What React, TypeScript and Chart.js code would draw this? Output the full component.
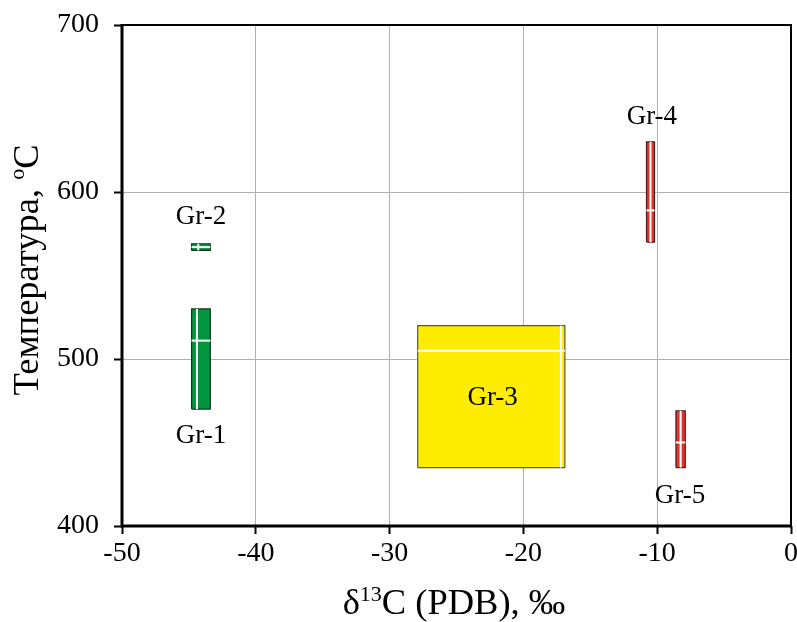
import React, { useEffect, useRef } from "react";
import { Chart, registerables } from "chart.js";

Chart.register(...registerables);

const groups = ["Gr-1", "Gr-2", "Gr-3", "Gr-4", "Gr-5"];
const d13cMin = [-44.8, -44.8, -27.9, -10.8, -8.6];
const d13cMax = [-43.4, -43.4, -16.9, -10.2, -7.9];
const tempMin = [470, 565, 435, 570, 435];
const tempMax = [530, 569, 520, 630, 469];
const d13cMark = [-44.4, -44.3, -17.2, -10.5, -8.25];
const tempMark = [511, 567, 505, 589, 450];
const labelX = [-44.1, -44.1, -22.3, -10.4, -8.3];
const labelT = [454, 585, 477, 645, 418];
const fillColors = ["#00963f", "#00963f", "#ffed00", "#e5322a", "#e5322a"];
const edgeColors = ["#17331f", "#17331f", "#555555", "#4a2020", "#4a2020"];

const xTicks = [-50, -40, -30, -20, -10, 0];
const yTicks = [400, 500, 600, 700];

const SERIF = "'Liberation Serif', 'Times New Roman', serif";

export default function App() {
  const ref = useRef<HTMLCanvasElement | null>(null);

  useEffect(() => {
    if (!ref.current) return;
    const datasets: any[] = [];
    groups.forEach((g, i) => {
      datasets.push({
        label: g + " v",
        data: [
          { x: d13cMark[i], y: tempMin[i] },
          { x: d13cMark[i], y: tempMax[i] },
        ],
        showLine: true,
        borderColor: "#ffffff",
        borderWidth: 2,
        pointRadius: 0,
        order: 0,
      });
      datasets.push({
        label: g + " h",
        data: [
          { x: d13cMin[i], y: tempMark[i] },
          { x: d13cMax[i], y: tempMark[i] },
        ],
        showLine: true,
        borderColor: "#ffffff",
        borderWidth: 2,
        pointRadius: 0,
        order: 0,
      });
    });
    groups.forEach((g, i) => {
      datasets.push({
        label: g,
        data: [
          { x: d13cMin[i], y: tempMin[i] },
          { x: d13cMax[i], y: tempMin[i] },
          { x: d13cMax[i], y: tempMax[i] },
          { x: d13cMin[i], y: tempMax[i] },
          { x: d13cMin[i], y: tempMin[i] },
        ],
        showLine: true,
        fill: "shape",
        backgroundColor: fillColors[i],
        borderColor: edgeColors[i],
        borderWidth: 1.2,
        pointRadius: 0,
        order: 1,
      });
    });

    const overlay = {
      id: "overlay",
      beforeDraw(chart: any) {
        const c = chart.ctx;
        c.save();
        c.fillStyle = "#ffffff";
        c.fillRect(0, 0, chart.width, chart.height);
        c.restore();
      },
      afterDraw(chart: any) {
        const c = chart.ctx;
        const { left, right, top, bottom } = chart.chartArea;
        const xs = chart.scales.x;
        const ys = chart.scales.y;
        c.save();
        c.strokeStyle = "#000";
        c.lineWidth = 2;
        c.strokeRect(left, top, right - left, bottom - top);
        c.lineWidth = 3;
        c.beginPath();
        c.moveTo(left, top - 1);
        c.lineTo(left, bottom);
        c.lineTo(right + 1, bottom);
        c.stroke();
        c.fillStyle = "#000";
        c.font = "27px " + SERIF;
        c.textAlign = "center";
        c.textBaseline = "middle";
        groups.forEach((g, i) => {
          c.fillText(g, xs.getPixelForValue(labelX[i]), ys.getPixelForValue(labelT[i]));
        });
        const big = "36.5px " + SERIF;
        const sup = "22px " + SERIF;
        c.textAlign = "left";
        c.textBaseline = "alphabetic";
        c.font = big;
        const w1 = c.measureText("δ").width;
        const w3 = c.measureText("C (PDB), ‰").width;
        c.font = sup;
        const w2 = c.measureText("13").width;
        const cx = 454;
        const x0 = cx - (w1 + w2 + w3) / 2;
        const by = 614;
        c.font = big;
        c.fillText("δ", x0, by);
        c.font = sup;
        c.fillText("13", x0 + w1, by - 13);
        c.font = big;
        c.fillText("C (PDB), ‰", x0 + w1 + w2, by);
        c.translate(38, 270);
        c.rotate(-Math.PI / 2);
        c.font = big;
        const t1 = "Температура, ";
        const a1 = c.measureText(t1).width;
        const a3 = c.measureText("C").width;
        c.font = sup;
        const a2 = c.measureText("o").width;
        const y0 = -(a1 + a2 + a3) / 2;
        c.font = big;
        c.fillText(t1, y0, 0);
        c.font = sup;
        c.fillText("o", y0 + a1, -14);
        c.font = big;
        c.fillText("C", y0 + a1 + a2, 0);
        c.restore();
      },
    };

    const chart = new Chart(ref.current, {
      type: "scatter",
      data: { datasets },
      options: {
        animation: false,
        responsive: false,
        layout: { padding: { top: 25, right: 6, left: 0, bottom: 0 } },
        plugins: { legend: { display: false }, tooltip: { enabled: false } },
        elements: { line: { tension: 0 } },
        scales: {
          x: {
            type: "linear",
            min: -50,
            max: 0,
            afterBuildTicks: (s: any) => {
              s.ticks = xTicks.map((v) => ({ value: v }));
            },
            afterFit: (s: any) => {
              s.height = 96;
              s.paddingLeft = 0;
              s.paddingRight = 0;
            },
            grid: { color: "#b0b0b0", lineWidth: 1, tickColor: "#000", tickWidth: 2, tickLength: 8 },
            border: { display: false },
            ticks: { color: "#000", font: { family: SERIF, size: 28 }, padding: 3, maxRotation: 0 },
          },
          y: {
            type: "linear",
            min: 400,
            max: 700,
            afterBuildTicks: (s: any) => {
              s.ticks = yTicks.map((v) => ({ value: v }));
            },
            afterFit: (s: any) => {
              s.width = 122;
              s.paddingTop = 0;
              s.paddingBottom = 0;
            },
            grid: { color: "#b0b0b0", lineWidth: 1, tickColor: "#000", tickWidth: 2, tickLength: 8 },
            border: { display: false },
            ticks: { color: "#000", font: { family: SERIF, size: 28 }, padding: 15 },
          },
        },
      },
      plugins: [overlay],
    });
    return () => chart.destroy();
  }, []);

  return (
    <canvas
      ref={ref}
      width={797}
      height={622}
      style={{ position: "fixed", left: 0, top: 0, width: 797, height: 622, display: "block" }}
    />
  );
}
